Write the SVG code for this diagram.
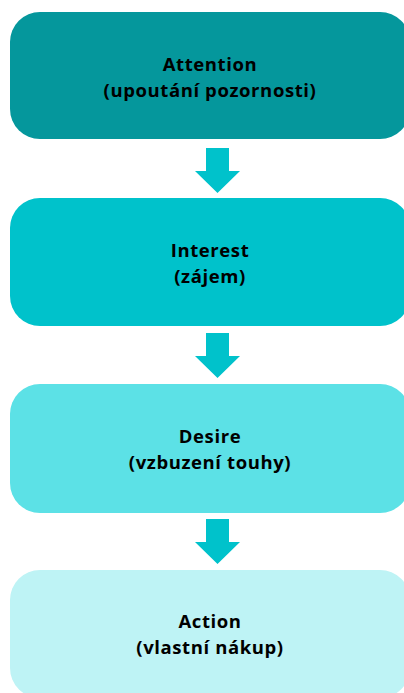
<svg xmlns="http://www.w3.org/2000/svg" width="404" height="693" viewBox="0 0 404 693">
<style>
.box{stroke:none}
.t{font-family:"Open Sans","Noto Sans","DejaVu Sans",sans-serif;font-weight:700;font-size:18.5px;letter-spacing:0.6px;fill:#000;text-anchor:middle}
.arrow{fill:#00c2cb}
</style>
<rect width="404" height="693" fill="#ffffff"/>
<g id="node-attention">
<rect class="box" x="10" y="12" width="400" height="127" rx="30" fill="#05979c"/>
<text class="t" x="210" y="71">Attention</text>
<text class="t" x="210" y="97">(upoutání pozornosti)</text>
</g>
<g id="node-interest">
<rect class="box" x="10" y="198" width="400" height="128" rx="30" fill="#00c2cb"/>
<text class="t" x="210" y="257">Interest</text>
<text class="t" x="210" y="283">(zájem)</text>
</g>
<g id="node-desire">
<rect class="box" x="10" y="384" width="400" height="129" rx="30" fill="#5ce1e6"/>
<text class="t" x="210" y="443">Desire</text>
<text class="t" x="210" y="469">(vzbuzení touhy)</text>
</g>
<g id="node-action">
<rect class="box" x="10" y="570" width="400" height="128" rx="30" fill="#bef3f5"/>
<text class="t" x="210" y="628">Action</text>
<text class="t" x="210" y="654">(vlastní nákup)</text>
</g>
<g id="connectors">
<polygon class="arrow" points="206,148 229,148 229,171 240,171 217.5,193 195,171 206,171"/>
<polygon class="arrow" points="206,333 229,333 229,356 240,356 217.5,378 195,356 206,356"/>
<polygon class="arrow" points="206,519 229,519 229,542 240,542 217.5,564 195,542 206,542"/>
</g>
</svg>
